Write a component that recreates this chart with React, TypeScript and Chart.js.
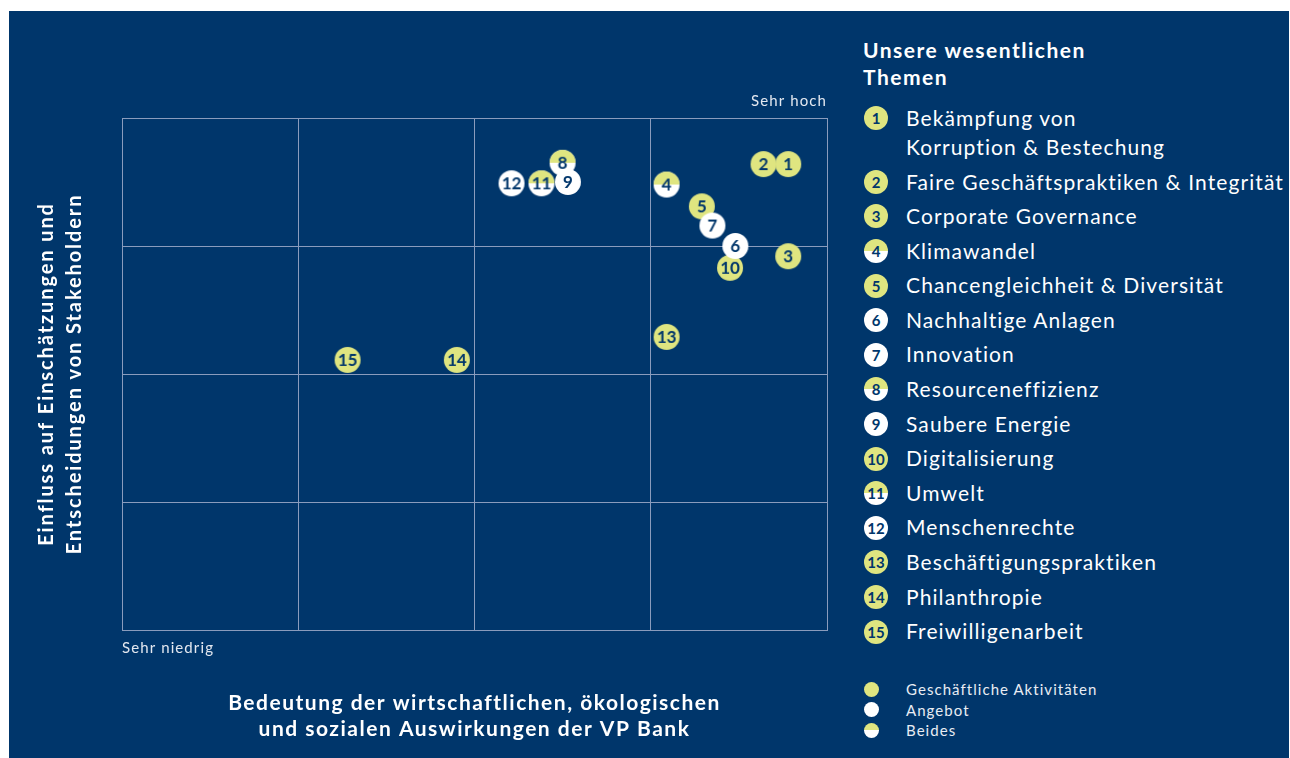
import React, { useEffect, useRef } from "react";
import { Chart, registerables } from "chart.js";

Chart.register(...registerables);

const NAVY = "#00366b";
const YELLOW = "#dfe580";
const WHITE = "#ffffff";
const GRID = "#8a9cbd";
const FONT = "Lato, 'Open Sans', sans-serif";

// ---- data ----
const topicIds = [1, 2, 3, 4, 5, 6, 7, 8, 9, 10, 11, 12, 13, 14, 15];
const topicNames = [
  ["Bekämpfung von", "Korruption & Bestechung"],
  ["Faire Geschäftspraktiken & Integrität"],
  ["Corporate Governance"],
  ["Klimawandel"],
  ["Chancengleichheit & Diversität"],
  ["Nachhaltige Anlagen"],
  ["Innovation"],
  ["Resourceneffizienz"],
  ["Saubere Energie"],
  ["Digitalisierung"],
  ["Umwelt"],
  ["Menschenrechte"],
  ["Beschäftigungspraktiken"],
  ["Philanthropie"],
  ["Freiwilligenarbeit"],
];
// x: Bedeutung der Auswirkungen (0 = sehr niedrig, 4 = sehr hoch)
const impactX = [3.78, 3.64, 3.78, 3.09, 3.29, 3.48, 3.35, 2.5, 2.53, 3.45, 2.38, 2.21, 3.09, 1.9, 1.28];
// y: Einfluss auf Stakeholder (0 = sehr niedrig, 4 = sehr hoch)
const influenceY = [3.64, 3.64, 2.92, 3.48, 3.31, 3.0, 3.16, 3.65, 3.5, 2.83, 3.49, 3.49, 2.29, 2.11, 2.11];
// G = Geschäftliche Aktivitäten, A = Angebot, B = Beides
const topicKinds = ["G", "G", "G", "B", "G", "A", "A", "B", "A", "G", "B", "A", "G", "G", "G"];
const drawOrder = [15, 14, 13, 12, 11, 8, 9, 10, 6, 5, 7, 4, 3, 2, 1];
const kindKeys = ["G", "A", "B"];
const kindLabels = ["Geschäftliche Aktivitäten", "Angebot", "Beides"];
const axisMin = 0;
const axisMax = 4;
const axisStep = 1;
const cornerLabels = ["Sehr hoch", "Sehr niedrig"];
const xTitle = ["Bedeutung der wirtschaftlichen, ökologischen", "und sozialen Auswirkungen der VP Bank"];
const yTitle = ["Einfluss auf Einschätzungen und", "Entscheidungen von Stakeholdern"];
const legendTitle = ["Unsere wesentlichen", "Themen"];

function kindBackground(kind: string) {
  if (kind === "G") return YELLOW;
  if (kind === "A") return WHITE;
  return `linear-gradient(to bottom, ${YELLOW} 50%, ${WHITE} 50%)`;
}

function markerImage(id: number, kind: string) {
  const r = 13;
  const size = 28;
  const c = document.createElement("canvas");
  c.width = size;
  c.height = size;
  const ctx = c.getContext("2d")!;
  const cx = size / 2;
  const cy = size / 2;
  if (kind === "B") {
    ctx.fillStyle = WHITE;
    ctx.beginPath();
    ctx.arc(cx, cy, r, 0, Math.PI * 2);
    ctx.fill();
    ctx.fillStyle = YELLOW;
    ctx.beginPath();
    ctx.arc(cx, cy, r, Math.PI, Math.PI * 2);
    ctx.closePath();
    ctx.fill();
  } else {
    ctx.fillStyle = kind === "G" ? YELLOW : WHITE;
    ctx.beginPath();
    ctx.arc(cx, cy, r, 0, Math.PI * 2);
    ctx.fill();
  }
  ctx.fillStyle = NAVY;
  ctx.font = `bold 17px ${FONT}`;
  ctx.textAlign = "center";
  ctx.textBaseline = "middle";
  ctx.fillText(String(id), cx, cy + 1);
  return c;
}

const decorPlugin = {
  id: "decor",
  afterDraw(chart: any) {
    const { ctx, chartArea } = chart;
    const { left, right, top, bottom } = chartArea;
    ctx.save();
    ctx.fillStyle = "#e3e8f0";
    ctx.font = `15px ${FONT}`;
    ctx.letterSpacing = "1.1px";
    ctx.textBaseline = "middle";
    ctx.textAlign = "right";
    ctx.fillText(cornerLabels[0], right, top - 17);
    ctx.textAlign = "left";
    ctx.fillText(cornerLabels[1], left, bottom + 18);

    ctx.fillStyle = WHITE;
    ctx.font = `bold 21px ${FONT}`;
    ctx.letterSpacing = "1.5px";
    ctx.textAlign = "center";
    const cx = (left + right) / 2;
    ctx.fillText(xTitle[0], cx, bottom + 73);
    ctx.fillText(xTitle[1], cx, bottom + 99);

    const cy = (top + bottom) / 2;
    ctx.translate(left - 75, cy);
    ctx.rotate(-Math.PI / 2);
    ctx.font = `bold 20px ${FONT}`;
    ctx.letterSpacing = "1.9px";
    ctx.fillText(yTitle[0], 0, 0);
    ctx.fillText(yTitle[1], 0, 28);
    ctx.restore();
  },
};

function ChartCanvas() {
  const ref = useRef<HTMLCanvasElement | null>(null);
  useEffect(() => {
    if (!ref.current) return;
    const points = drawOrder.map((id) => ({ x: impactX[id - 1], y: influenceY[id - 1] }));
    const styles = drawOrder.map((id) => markerImage(id, topicKinds[id - 1]));
    const chart = new Chart(ref.current, {
      type: "scatter",
      data: {
        datasets: [
          {
            data: points,
            pointStyle: styles as any,
            pointRadius: 13,
            pointHoverRadius: 13,
          },
        ],
      },
      options: {
        animation: false,
        responsive: false,
        maintainAspectRatio: false,
        events: [],
        layout: { padding: { left: 113, top: 107, right: 32, bottom: 128 } },
        plugins: { legend: { display: false }, tooltip: { enabled: false } },
        scales: {
          x: {
            type: "linear",
            min: axisMin,
            max: axisMax,
            ticks: { display: false, stepSize: axisStep },
            grid: { color: GRID, drawTicks: false, lineWidth: 1 },
            border: { color: GRID, width: 1 },
          },
          y: {
            type: "linear",
            min: axisMin,
            max: axisMax,
            ticks: { display: false, stepSize: axisStep },
            grid: { color: GRID, drawTicks: false, lineWidth: 1 },
            border: { color: GRID, width: 1 },
          },
        },
      },
      plugins: [decorPlugin],
    });
    return () => chart.destroy();
  }, []);
  return (
    <canvas
      ref={ref}
      width={850}
      height={747}
      style={{ position: "absolute", left: 0, top: 0, width: 850, height: 747 }}
    />
  );
}

function Marker({ id, kind, size, fontSize }: { id?: number; kind: string; size: number; fontSize: number }) {
  return (
    <div
      style={{
        width: size,
        height: size,
        borderRadius: "50%",
        background: kindBackground(kind),
        color: NAVY,
        fontWeight: 700,
        fontSize,
        lineHeight: `${size}px`,
        textAlign: "center",
        flex: "none",
        letterSpacing: 0,
      }}
    >
      {id ?? ""}
    </div>
  );
}

export default function App() {
  return (
    <div
      style={{
        position: "fixed",
        left: 9,
        top: 11,
        width: 1280,
        height: 747,
        background: NAVY,
        fontFamily: FONT,
        color: WHITE,
        overflow: "hidden",
      }}
    >
      <ChartCanvas />
      <div
        style={{
          position: "absolute",
          left: 854,
          top: 25,
          fontWeight: 700,
          fontSize: 21,
          letterSpacing: 1.5,
          lineHeight: "27px",
        }}
      >
        {legendTitle.map((t) => (
          <div key={t}>{t}</div>
        ))}
      </div>
      <div style={{ position: "absolute", left: 855, top: 92 }}>
        {topicIds.map((id, i) => {
          const lines = topicNames[i];
          const first = i === 0;
          return (
            <div
              key={id}
              style={{
                display: "flex",
                alignItems: "flex-start",
                height: first ? 61.5 : 34.6,
              }}
            >
              <div style={{ marginTop: first ? 3 : 5.3 }}>
                <Marker id={id} kind={topicKinds[i]} size={24} fontSize={15} />
              </div>
              <div
                style={{
                  marginLeft: 18,
                  fontSize: 21,
                  letterSpacing: 1.1,
                  lineHeight: first ? "29px" : "34.6px",
                  whiteSpace: "nowrap",
                }}
              >
                {lines.map((l) => (
                  <div key={l}>{l}</div>
                ))}
              </div>
            </div>
          );
        })}
      </div>
      <div style={{ position: "absolute", left: 855, top: 668 }}>
        {kindKeys.map((k, i) => (
          <div key={k} style={{ display: "flex", alignItems: "center", height: 20.5 }}>
            <Marker kind={k} size={15} fontSize={1} />
            <div style={{ marginLeft: 27, fontSize: 15, letterSpacing: 1.05, color: "#e8ecf3" }}>
              {kindLabels[i]}
            </div>
          </div>
        ))}
      </div>
    </div>
  );
}
